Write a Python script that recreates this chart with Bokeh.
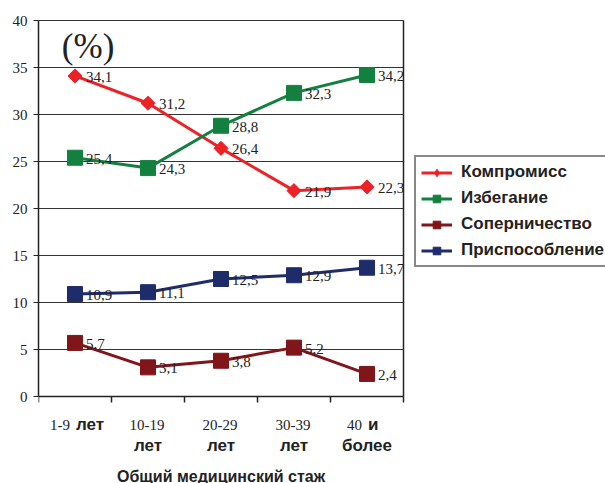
from bokeh.plotting import figure
from bokeh.models import (Range1d, FixedTicker, ColumnDataSource, LabelSet, Label,
                          Legend, LegendItem)
from bokeh.core.properties import value
from bokeh.embed import file_html
from bokeh.resources import INLINE
import math

# Experience groups (x categories)
tick_nums = ["1-9", "10-19", "20-29", "30-39", "40"]
tick_words_line1 = ["лет", "", "", "", "и"]
tick_words_line2 = ["", "лет", "лет", "лет", "более"]

# Share of each conflict strategy, %
series_names = ["Компромисс", "Избегание", "Соперничество", "Приспособление"]
kompromiss = [34.1, 31.2, 26.4, 21.9, 22.3]
izbeganie = [25.4, 24.3, 28.8, 32.3, 34.2]
sopernichestvo = [5.7, 3.1, 3.8, 5.2, 2.4]
prisposoblenie = [10.9, 11.1, 12.5, 12.9, 13.7]

y_ticks = [0, 5, 10, 15, 20, 25, 30, 35, 40]
x_title = "Общий медицинский стаж"
unit_text = "(%)"

SERIF = "Liberation Serif"
SANS = "Liberation Sans"
INK = "#222222"

W, H = 605, 483
LEFT = 38                 # plot box starts here
BOX_TOP, BOX_BOTTOM = 20, 396
PX_X = 73                 # pixels per category
PX_Y = (BOX_BOTTOM - BOX_TOP) / y_ticks[-1]
n = len(tick_nums)
ymax = y_ticks[-1]

# The frame spans the whole page to the right of the value axis, so the
# legend and the category names below the box stay inside it.
x_range = Range1d(0, (W - LEFT) / PX_X)
y_range = Range1d(-(H - BOX_BOTTOM) / PX_Y, ymax + BOX_TOP / PX_Y)

p = figure(width=W, height=H, output_backend="svg", toolbar_location=None,
           x_range=x_range, y_range=y_range, x_axis_location=None,
           min_border_left=LEFT, min_border_right=0, min_border_top=0,
           min_border_bottom=0)
p.background_fill_color = "white"
p.border_fill_color = "white"
p.outline_line_color = None
p.xgrid.grid_line_color = None
p.ygrid.grid_line_color = None

# Value axis
p.yaxis.ticker = FixedTicker(ticks=y_ticks)
p.yaxis.bounds = (0, ymax)
p.yaxis.major_tick_out = 5
p.yaxis.major_tick_in = 0
p.yaxis.minor_tick_line_color = None
p.yaxis.axis_line_width = 1.5
p.yaxis.axis_line_color = INK
p.yaxis.major_tick_line_color = INK
p.yaxis.major_label_text_font = SERIF
p.yaxis.major_label_text_font_size = "15px"
p.yaxis.major_label_text_color = INK
p.yaxis.major_label_standoff = 6

# Horizontal grid lines across the plot box, right border, baseline
grid_y = y_ticks[1:]
p.segment(x0=[0] * len(grid_y), x1=[n] * len(grid_y), y0=grid_y, y1=grid_y,
          line_color="#333333", line_width=1)
p.segment(x0=[n], x1=[n], y0=[0], y1=[ymax], line_color=INK, line_width=1.5)
p.segment(x0=[0], x1=[n], y0=[0], y1=[0], line_color=INK, line_width=1.5)
# tick marks between the experience groups
bounds_x = list(range(n + 1))
p.ray(x=bounds_x, y=[0] * len(bounds_x), length=6, length_units="screen",
      angle=-math.pi / 2, line_color=INK, line_width=1.5)

xs = [i + 0.5 for i in range(n)]

styles = [
    (kompromiss, "#EC2227", 10, math.pi / 4, "diamond"),
    (izbeganie, "#13803F", 15, 0, "square"),
    (sopernichestvo, "#80151A", 15, 0, "square"),
    (prisposoblenie, "#1F2C6C", 15, 0, "square"),
]

legend_items = []
for name, (vals, color, size, ang, key_marker) in zip(series_names, styles):
    src = ColumnDataSource(dict(x=xs, y=vals,
                                txt=[f"{v:.1f}".replace(".", ",") for v in vals]))
    r_line = p.line("x", "y", source=src, line_color=color, line_width=3)
    p.scatter("x", "y", source=src, marker="square", size=size, angle=ang,
              fill_color=color, line_color=color)
    # marker used for the legend key only (no visible point)
    r_key = p.scatter(x=[float("nan")], y=[float("nan")], marker=key_marker,
                      size=size, fill_color=color, line_color=color)
    legend_items.append(LegendItem(label=name, renderers=[r_line, r_key]))
    p.add_layout(LabelSet(x="x", y="y", text="txt", source=src, x_offset=11,
                          y_offset=-1, text_baseline="middle", text_align="left",
                          text_font=SERIF, text_font_size="15px", text_color=INK))

p.add_layout(Label(x=0.32, y=37.2, text=unit_text, text_align="left",
                   text_baseline="middle", text_font=SERIF,
                   text_font_size="35px", text_color=INK))

# Group names: numbers in serif, words in bold sans
LINE1 = -(424 - BOX_BOTTOM) / PX_Y
LINE2 = -(445 - BOX_BOTTOM) / PX_Y
TITLE_Y = -(476 - BOX_BOTTOM) / PX_Y

num_align, num_off = [], []
w1_x, w1_txt = [], []
w2_x, w2_txt = [], []
for i, x in enumerate(xs):
    if tick_words_line1[i]:
        num_align.append("right"); num_off.append(-5)
        w1_x.append(x); w1_txt.append(tick_words_line1[i])
    else:
        num_align.append("center"); num_off.append(-1)
    if tick_words_line2[i]:
        w2_x.append(x); w2_txt.append(tick_words_line2[i])

p.text(x=xs, y=[LINE1] * n, text=tick_nums, x_offset=num_off,
       text_align=num_align, text_baseline="alphabetic", text_font=value(SERIF),
       text_font_size="15px", text_color=INK)
p.text(x=w1_x, y=[LINE1] * len(w1_x), text=w1_txt, x_offset=1,
       text_align="left", text_baseline="alphabetic", text_font=value(SANS),
       text_font_style="bold", text_font_size="17px", text_color=INK)
p.text(x=w2_x, y=[LINE2] * len(w2_x), text=w2_txt,
       text_align="center", text_baseline="alphabetic", text_font=value(SANS),
       text_font_style="bold", text_font_size="17px", text_color=INK)
p.text(x=[n / 2], y=[TITLE_Y], text=[x_title], text_align="center",
       text_baseline="alphabetic", text_font=value(SANS), text_font_style="bold",
       text_font_size="16px", text_color=INK)

legend = Legend(items=legend_items, location=(376, 216),
                orientation="vertical",
                border_line_color="#111111", border_line_width=2,
                background_fill_color="white", background_fill_alpha=1,
                label_text_font=SANS, label_text_font_style="bold",
                label_text_font_size="17px", label_text_color=INK,
                glyph_width=31, glyph_height=19, label_height=19, spacing=6,
                padding=5, margin=0, label_standoff=9)
p.add_layout(legend, "center")

open("out.html", "w").write(file_html(p, INLINE))
